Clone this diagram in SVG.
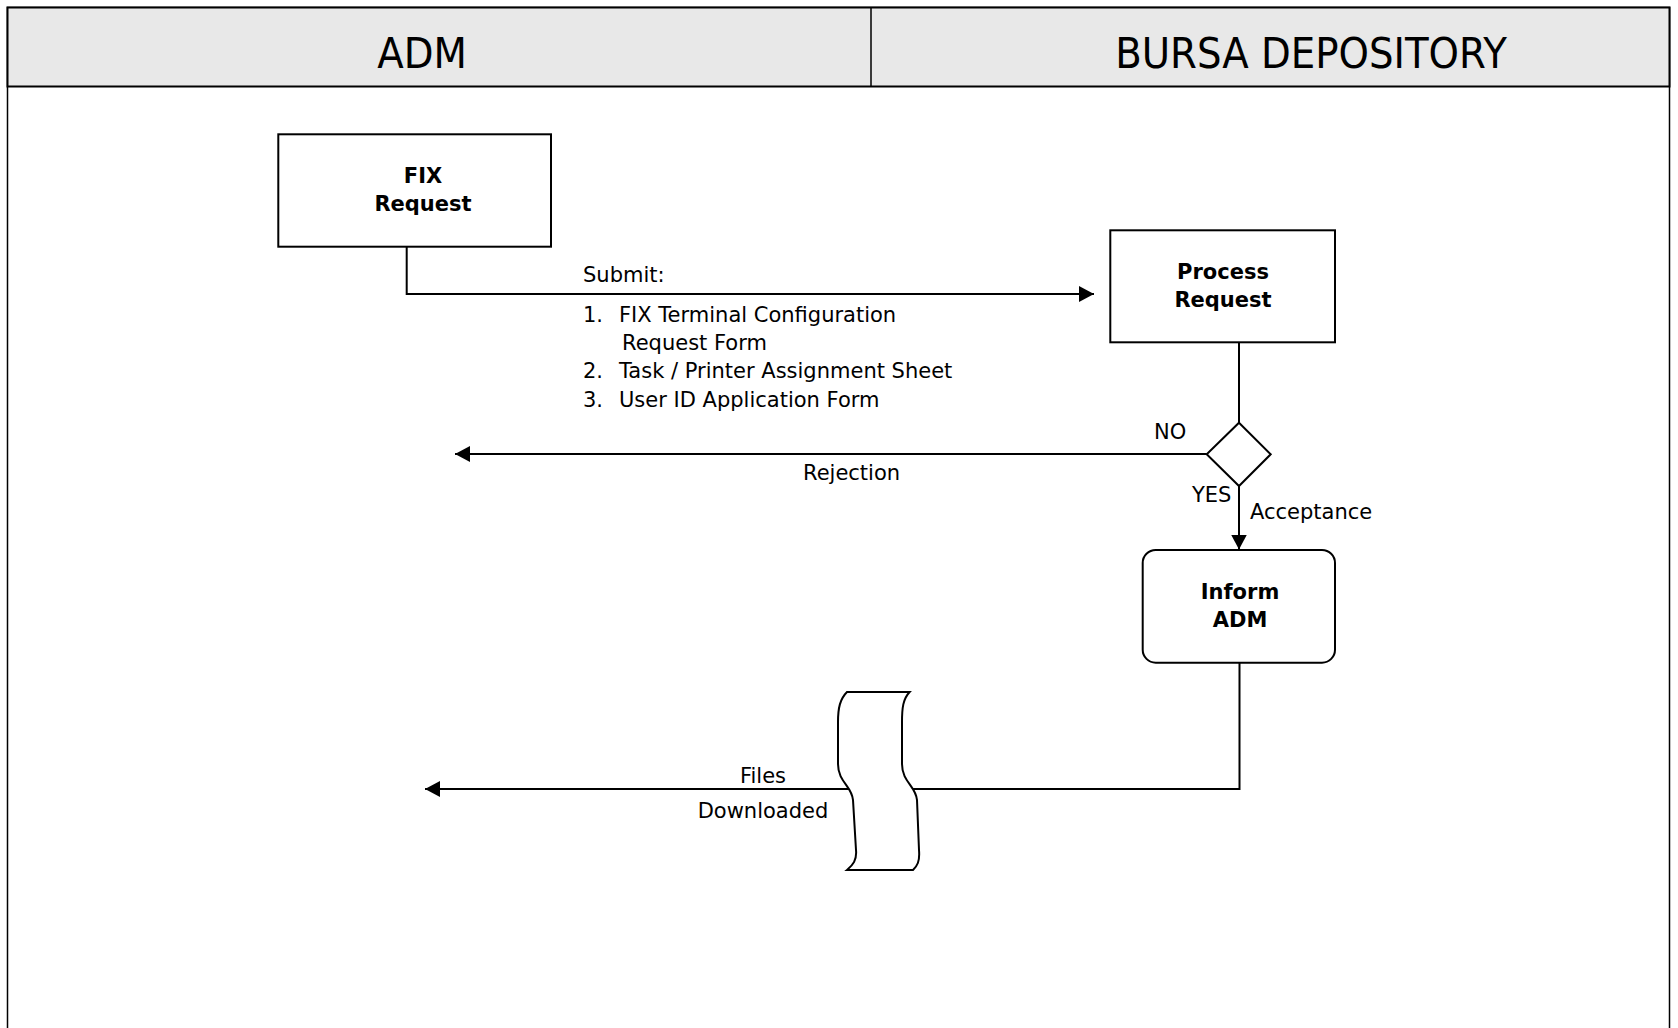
<svg xmlns="http://www.w3.org/2000/svg" width="1678" height="1028" viewBox="0 0 1678 1028">
<style>
.hdr{font-family:"DejaVu Sans Condensed","DejaVu Sans",sans-serif;font-stretch:condensed;font-size:43px;fill:#000;text-anchor:middle}
.nt{font-family:"DejaVu Sans",sans-serif;font-weight:bold;font-size:21px;fill:#000;text-anchor:middle}
.lb{font-family:"DejaVu Sans",sans-serif;font-size:21px;fill:#000}
.box{fill:#fff;stroke:#000;stroke-width:2}
.ln{fill:none;stroke:#000;stroke-width:2}
</style>
<defs>
<marker id="ah" markerUnits="userSpaceOnUse" markerWidth="16" markerHeight="16" refX="15" refY="8" orient="auto">
<path d="M0,0 L15,8 L0,16 Z" fill="#000"/>
</marker>
</defs>
<rect width="1678" height="1028" fill="#fff"/>
<g id="lanes">
<rect x="7.5" y="7.5" width="1662" height="1040" fill="#fff" stroke="#000" stroke-width="1.5"/>
<rect x="7.5" y="7.5" width="1662" height="79" fill="#e8e8e8" stroke="#000" stroke-width="2"/>
<line x1="871" y1="7.5" x2="871" y2="86.5" stroke="#000" stroke-width="1.5"/>
<text class="hdr" x="422" y="68">ADM</text>
<text class="hdr" x="1311" y="68">BURSA DEPOSITORY</text>
</g>
<g id="connectors">
<polyline class="ln" points="406.7,247 406.7,294 1094,294" marker-end="url(#ah)"/>
<line class="ln" x1="1239" y1="342" x2="1239" y2="422.7"/>
<line class="ln" x1="1206.7" y1="454" x2="455" y2="454" marker-end="url(#ah)"/>
<line class="ln" x1="1239" y1="486" x2="1239" y2="549.5" marker-end="url(#ah)"/>
<polyline class="ln" points="1239.5,663 1239.5,789 425,789" marker-end="url(#ah)"/>
<text class="lb" x="583" y="282">Submit:</text>
<text class="lb" x="583" y="322">1.</text>
<text class="lb" x="619" y="322">FIX Terminal Configuration</text>
<text class="lb" x="622" y="350">Request Form</text>
<text class="lb" x="583" y="378">2.</text>
<text class="lb" x="619" y="378">Task / Printer Assignment Sheet</text>
<text class="lb" x="583" y="407">3.</text>
<text class="lb" x="619" y="407">User ID Application Form</text>
<text class="lb" x="1154" y="439">NO</text>
<text class="lb" x="803" y="480">Rejection</text>
<text class="lb" x="1192" y="502">YES</text>
<text class="lb" x="1250" y="519">Acceptance</text>
<text class="lb" x="763" y="783" text-anchor="middle">Files</text>
<text class="lb" x="763" y="818" text-anchor="middle">Downloaded</text>
</g>
<g id="fix-request">
<rect class="box" x="278.3" y="134.3" width="272.7" height="112.4"/>
<text class="nt" x="423" y="183">FIX</text>
<text class="nt" x="423" y="211">Request</text>
</g>
<g id="process-request">
<rect class="box" x="1110.3" y="230.3" width="224.7" height="112"/>
<text class="nt" x="1223" y="279">Process</text>
<text class="nt" x="1223" y="307">Request</text>
</g>
<g id="decision">
<path class="box" d="M1239,422.7 L1270.7,454.3 L1239,486 L1206.7,454.3 Z"/>
</g>
<g id="inform-adm">
<rect class="box" x="1142.7" y="550" width="192.3" height="112.7" rx="13" ry="13"/>
<text class="nt" x="1240" y="599">Inform</text>
<text class="nt" x="1240" y="627">ADM</text>
</g>
<g id="files-tape">
<path class="box" d="M847,692 L909.6,692 C903,699 902,708 902,722 L902,764 C902,782 916,786 917,800 L919,850 C920,862 917,866 913,870 L847,870 C853,865 857,860 856,850 L853,800 C852,786 838,782 838,764 L838,722 C838,708 840,699 847,692 Z"/>
</g>
</svg>
